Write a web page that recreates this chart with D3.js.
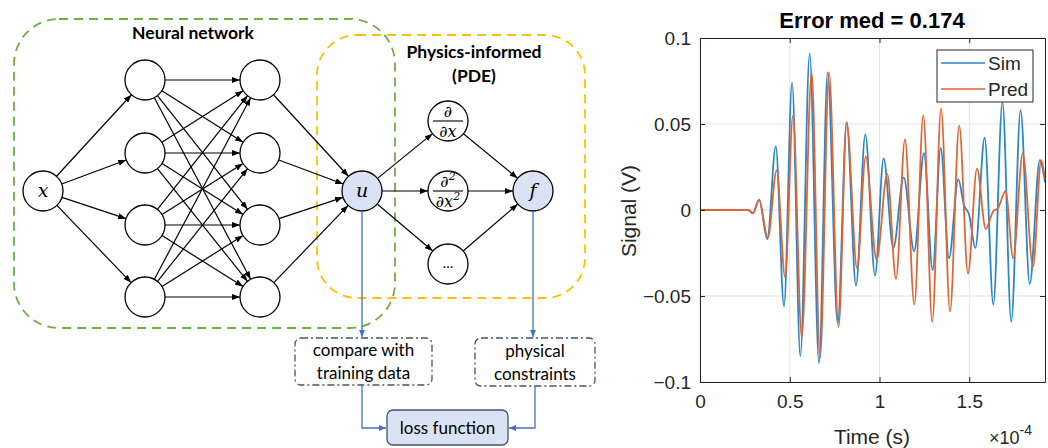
<!DOCTYPE html>
<html lang="en">
<head>
<meta charset="UTF-8">
<script src="https://d3js.org/d3.v7.min.js"></script>
<title>PINN and signal</title>
<style>
  body { margin: 0; background: #fff; }
  svg { display: block; }
</style>
</head>
<body>
<div id="fig"></div>
<script>
// ---- chart data (time in units of 1e-4 s, signal in V) ----
const simTime = [0, 0.267, 0.295, 0.329, 0.375, 0.422, 0.468, 0.513, 0.559, 0.611, 0.663, 0.711, 0.767, 0.817,
  0.869, 0.921, 0.975, 1.023, 1.077, 1.135, 1.193, 1.248, 1.296, 1.341, 1.387, 1.439, 1.47, 1.50,
  1.534, 1.586, 1.634, 1.685, 1.734, 1.786, 1.837, 1.893, 1.922];
const simSignal = [0, 0, -0.002, 0.006, -0.017, 0.037, -0.056, 0.074, -0.085, 0.091, -0.089, 0.080, -0.066, 0.051,
  -0.044, 0.044, -0.038, 0.030, -0.022, 0.019, -0.024, 0.033, -0.035, 0.036, -0.028, 0.018, 0.003, -0.003,
  -0.022, 0.042, -0.055, 0.063, -0.065, 0.058, -0.043, 0.029, 0.016];

const predTime = [0, 0.267, 0.295, 0.329, 0.378, 0.427, 0.474, 0.518, 0.567, 0.622, 0.669, 0.719, 0.772, 0.817,
  0.875, 0.923, 0.984, 1.043, 1.092, 1.142, 1.194, 1.244, 1.294, 1.343, 1.393, 1.444, 1.493, 1.543,
  1.592, 1.632, 1.660, 1.702, 1.745, 1.798, 1.855, 1.901, 1.922];
const predSignal = [0, 0, -0.002, 0.006, -0.016, 0.023, -0.039, 0.055, -0.074, 0.080, -0.086, 0.080, -0.068, 0.051,
  -0.034, 0.031, -0.029, 0.021, -0.040, 0.041, -0.055, 0.055, -0.065, 0.059, -0.059, 0.049, -0.037, 0.024,
  -0.011, -0.001, 0.001, 0.011, -0.028, 0.033, -0.033, 0.029, 0.018];

const seriesNames = ["Sim", "Pred"];
const xTicks = [0, 0.5, 1, 1.5];
const yTicks = [-0.1, -0.05, 0, 0.05, 0.1];
const chartTitle = "Error med = 0.174";

// ---- diagram labels ----
const nnTitle = "Neural network";
const pdeTitle = ["Physics-informed", "(PDE)"];
const compareText = ["compare with", "training data"];
const physText = ["physical", "constraints"];
const lossText = "loss function";

const width = 1048, height = 448;
const svg = d3.select("#fig").append("svg")
  .attr("width", width)
  .attr("height", height);

const defs = svg.append("defs");
function marker(id, color, w, h) {
  defs.append("marker")
    .attr("id", id)
    .attr("viewBox", `0 ${-h / 2} ${w} ${h}`)
    .attr("refX", w).attr("refY", 0)
    .attr("markerUnits", "userSpaceOnUse")
    .attr("markerWidth", w).attr("markerHeight", h)
    .attr("orient", "auto")
    .append("path")
    .attr("d", `M0,${-h / 2}L${w},0L0,${h / 2}Z`)
    .attr("fill", color);
}
marker("arrK", "#000", 8, 6);
marker("arrB", "#4472c4", 7, 6);

// ================= left diagram =================
const diag = svg.append("g");
const uiFont = "Lato, 'Open Sans', sans-serif";
const mathFont = "'DejaVu Serif', 'Liberation Serif', serif";

// dashed group frames
diag.append("rect")
  .attr("x", 14).attr("y", 19).attr("width", 381).attr("height", 309)
  .attr("rx", 45).attr("ry", 45)
  .attr("fill", "none").attr("stroke", "#70ad47")
  .attr("stroke-width", 1.8).attr("stroke-dasharray", "9,6");
diag.append("rect")
  .attr("x", 317).attr("y", 35).attr("width", 268).attr("height", 263)
  .attr("rx", 40).attr("ry", 40)
  .attr("fill", "none").attr("stroke", "#ffc000")
  .attr("stroke-width", 1.8).attr("stroke-dasharray", "9,6");

diag.append("text")
  .attr("x", 193).attr("y", 39)
  .attr("text-anchor", "middle")
  .attr("font-family", uiFont).attr("font-weight", 700).attr("font-size", 17.5)
  .text(nnTitle);
diag.selectAll(".pdeT").data(pdeTitle).join("text")
  .attr("x", 474).attr("y", (d, i) => 58 + i * 24)
  .attr("text-anchor", "middle")
  .attr("font-family", uiFont).attr("font-weight", 700).attr("font-size", 17.5)
  .text(d => d);

// nodes
const r = 20;
const nX = { x: 43, y: 191 };
const L1 = [80, 153, 225, 297].map(y => ({ x: 145, y }));
const L2 = [80, 153, 225, 297].map(y => ({ x: 260, y }));
const nU = { x: 362, y: 191 };
const D = [121, 191, 264].map(y => ({ x: 448, y }));
const nF = { x: 533, y: 191 };

const edges = [];
L1.forEach(b => edges.push([nX, b]));
L1.forEach(a => L2.forEach(b => edges.push([a, b])));
L2.forEach(a => edges.push([a, nU]));
D.forEach(b => edges.push([nU, b]));
D.forEach(a => edges.push([a, nF]));

diag.selectAll(".edge").data(edges).join("line")
  .each(function ([a, b]) {
    const dx = b.x - a.x, dy = b.y - a.y, L = Math.hypot(dx, dy);
    d3.select(this)
      .attr("x1", a.x + dx / L * r).attr("y1", a.y + dy / L * r)
      .attr("x2", b.x - dx / L * r).attr("y2", b.y - dy / L * r);
  })
  .attr("stroke", "#000").attr("stroke-width", 1.2)
  .attr("marker-end", "url(#arrK)");

const plain = [nX, ...L1, ...L2, ...D];
diag.selectAll(".node").data(plain).join("circle")
  .attr("cx", d => d.x).attr("cy", d => d.y).attr("r", r)
  .attr("fill", "#fff").attr("stroke", "#000").attr("stroke-width", 1.3);
diag.selectAll(".nodeB").data([nU, nF]).join("circle")
  .attr("cx", d => d.x).attr("cy", d => d.y).attr("r", r)
  .attr("fill", "#dae3f3").attr("stroke", "#000").attr("stroke-width", 1.3);

function mathText(x, y, s, size) {
  return diag.append("text").attr("x", x).attr("y", y)
    .attr("text-anchor", "middle")
    .attr("font-family", mathFont).attr("font-style", "italic").attr("font-size", size)
    .text(s);
}
mathText(nX.x, nX.y + 6, "x", 19);
mathText(nU.x, nU.y + 6, "u", 19);
mathText(nF.x, nF.y + 6, "f", 19);

// derivative fractions
function frac(n, topPart, botPart) {
  const t = mathText(n.x, n.y - 4, "", 16);
  t.append("tspan").text(topPart[0]);
  if (topPart[1]) t.append("tspan").attr("dy", -7).attr("font-size", 11).text(topPart[1]);
  const b = mathText(n.x, n.y + 16, "", 16);
  b.append("tspan").text(botPart[0]);
  if (botPart[1]) b.append("tspan").attr("dy", -7).attr("font-size", 11).text(botPart[1]);
  diag.append("line")
    .attr("x1", n.x - 15).attr("x2", n.x + 15)
    .attr("y1", n.y).attr("y2", n.y)
    .attr("stroke", "#000").attr("stroke-width", 1.1);
}
frac(D[0], ["∂"], ["∂x"]);
frac(D[1], ["∂", "2"], ["∂x", "2"]);
diag.append("text")
  .attr("x", D[2].x).attr("y", D[2].y + 4)
  .attr("text-anchor", "middle")
  .attr("font-family", uiFont).attr("font-size", 14)
  .text("…");

// lower boxes
const boxStroke = "#44546a";
function box(x, y, w, h, lines, fill, dash) {
  diag.append("rect")
    .attr("x", x).attr("y", y).attr("width", w).attr("height", h)
    .attr("rx", 6).attr("ry", 6)
    .attr("fill", fill).attr("stroke", boxStroke).attr("stroke-width", 1.3)
    .attr("stroke-dasharray", dash);
  const n = lines.length;
  diag.selectAll(null).data(lines).join("text")
    .attr("x", x + w / 2)
    .attr("y", (d, i) => y + h / 2 + 6 + (i - (n - 1) / 2) * 23)
    .attr("text-anchor", "middle")
    .attr("font-family", uiFont).attr("font-size", 17)
    .attr("fill", "#000")
    .text(d => d);
}
box(295, 338, 137, 47, compareText, "#fff", "7,3,2,3");
box(475, 338, 120, 48, physText, "#fff", "7,3,2,3");
box(387, 410, 121, 35, [lossText], "#dae3f3", null);

const blue = "#4472c4";
function bluePath(pts) {
  diag.append("path")
    .attr("d", d3.line()(pts))
    .attr("fill", "none").attr("stroke", blue).attr("stroke-width", 1.3)
    .attr("marker-end", "url(#arrB)");
}
bluePath([[nU.x, nU.y + r], [nU.x, 337]]);
bluePath([[nF.x, nF.y + r], [nF.x, 337]]);
bluePath([[362, 385], [362, 428], [386, 428]]);
bluePath([[535, 386], [535, 428], [509, 428]]);

// ================= right chart =================
const pLeft = 700, pRight = 1045, pTop = 38, pBottom = 382;
const x = d3.scaleLinear().domain([0, 1.922]).range([pLeft, pRight]);
const y = d3.scaleLinear().domain([-0.1, 0.1]).range([pBottom, pTop]);
const axisFont = "'Liberation Sans', Arial, sans-serif";
const ink = "#262626";

const chart = svg.append("g");

// grid
chart.append("g").selectAll("line").data(xTicks).join("line")
  .attr("x1", d => x(d)).attr("x2", d => x(d))
  .attr("y1", pTop).attr("y2", pBottom)
  .attr("stroke", "#e3e3e3").attr("stroke-width", 1);
chart.append("g").selectAll("line").data(yTicks).join("line")
  .attr("x1", pLeft).attr("x2", pRight)
  .attr("y1", d => y(d)).attr("y2", d => y(d))
  .attr("stroke", "#e3e3e3").attr("stroke-width", 1);

// curves
defs.append("clipPath").attr("id", "plotClip")
  .append("rect").attr("x", pLeft).attr("y", pTop)
  .attr("width", pRight - pLeft).attr("height", pBottom - pTop);

const line = d3.line()
  .x(d => x(d[0]))
  .y(d => y(d[1]))
  .curve(d3.curveMonotoneX);

const series = [
  { name: seriesNames[0], color: "#2a86c6", pts: d3.zip(simTime, simSignal) },
  { name: seriesNames[1], color: "#df6634", pts: d3.zip(predTime, predSignal) }
];
chart.append("g").attr("clip-path", "url(#plotClip)")
  .selectAll("path").data(series).join("path")
  .attr("d", d => line(d.pts))
  .attr("fill", "none")
  .attr("stroke", d => d.color)
  .attr("stroke-width", 1.8);

// axes (ticks pointing inward, MATLAB style)
const xAxis = d3.axisBottom(x).tickValues(xTicks).tickSizeInner(-5).tickSizeOuter(0)
  .tickPadding(13).tickFormat(d3.format("~g"));
const yAxis = d3.axisLeft(y).tickValues(yTicks).tickSizeInner(-5).tickSizeOuter(0)
  .tickPadding(9).tickFormat(d3.format("~g"));

chart.append("g").attr("transform", `translate(0,${pBottom})`).call(xAxis);
chart.append("g").attr("transform", `translate(${pLeft},0)`).call(yAxis);
chart.append("g").attr("transform", `translate(0,${pTop})`)
  .call(d3.axisTop(x).tickValues(xTicks).tickSizeInner(-5).tickSizeOuter(0).tickFormat(""));
chart.append("g").attr("transform", `translate(${pRight},0)`)
  .call(d3.axisRight(y).tickValues(yTicks).tickSizeInner(-5).tickSizeOuter(0).tickFormat(""));

chart.selectAll(".domain").attr("stroke", ink);
chart.selectAll(".tick line").attr("stroke", ink);
chart.selectAll(".tick text")
  .attr("font-family", axisFont).attr("font-size", 19).attr("fill", ink);

// title and labels
chart.append("text")
  .attr("x", 872).attr("y", 28)
  .attr("text-anchor", "middle")
  .attr("font-family", axisFont).attr("font-weight", 700).attr("font-size", 22)
  .attr("fill", "#000")
  .text(chartTitle);
chart.append("text")
  .attr("x", 872).attr("y", 444)
  .attr("text-anchor", "middle")
  .attr("font-family", axisFont).attr("font-size", 21).attr("fill", ink)
  .text("Time (s)");
chart.append("text")
  .attr("transform", `translate(636,211) rotate(-90)`)
  .attr("text-anchor", "middle")
  .attr("font-family", axisFont).attr("font-size", 21).attr("fill", ink)
  .text("Signal (V)");
const mult = chart.append("text")
  .attr("x", 989).attr("y", 444)
  .attr("font-family", axisFont).attr("font-size", 18).attr("fill", ink);
mult.append("tspan").text("×10");
mult.append("tspan").attr("dy", -9).attr("font-size", 14).text("-4");

// legend
const lg = chart.append("g").attr("transform", "translate(937,50)");
lg.append("rect").attr("width", 96).attr("height", 52)
  .attr("fill", "#fff").attr("stroke", ink).attr("stroke-width", 1);
lg.selectAll(".item").data(series).join("g")
  .attr("transform", (d, i) => `translate(0,${13 + i * 26})`)
  .each(function (d) {
    const g = d3.select(this);
    g.append("line").attr("x1", 4).attr("x2", 48).attr("y1", 0).attr("y2", 0)
      .attr("stroke", d.color).attr("stroke-width", 1.7);
    g.append("text").attr("x", 51).attr("y", 7)
      .attr("font-family", axisFont).attr("font-size", 19).attr("fill", ink)
      .text(d.name);
  });
</script>
</body>
</html>
